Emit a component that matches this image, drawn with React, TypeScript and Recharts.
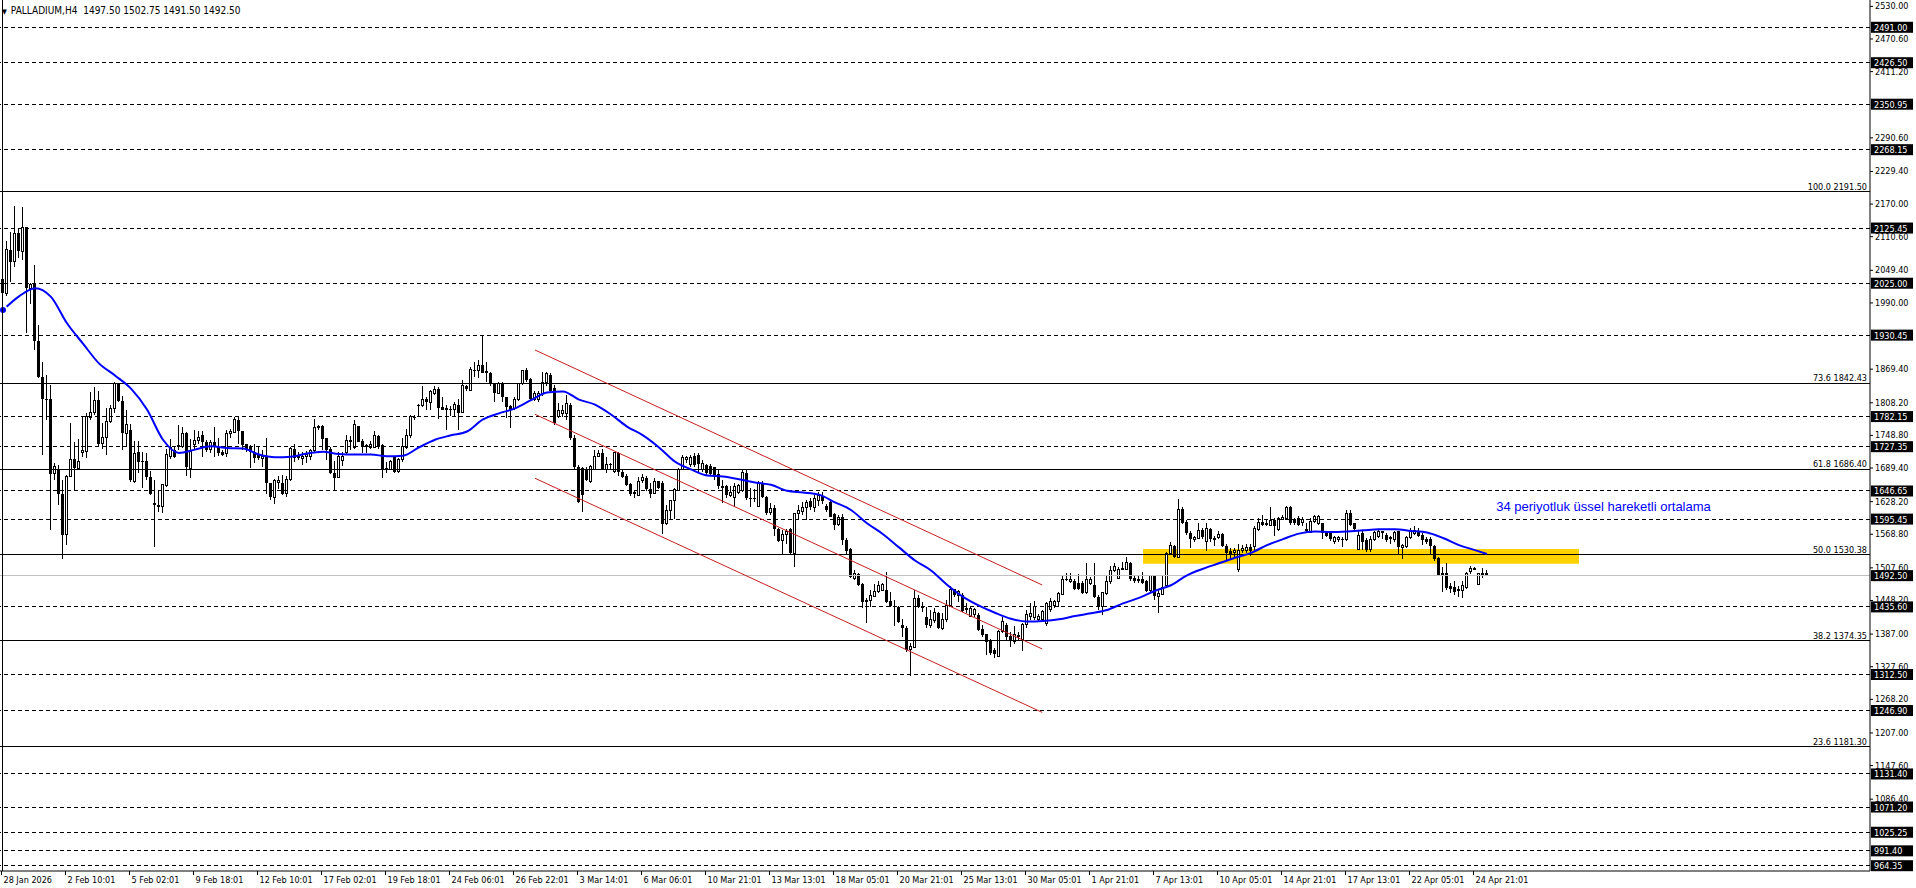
import React from 'react';
import { ComposedChart, Bar, Line, XAxis, YAxis, ReferenceLine, ReferenceArea, ReferenceDot } from 'recharts';

// H4 candles, [open, high, low, close], one per bar from 28 Jan 2026
const candles: number[][] = [
  [2032, 2049, 1988, 2007], [2007, 2101, 2001, 2087], [2086, 2119, 2028, 2064], [2064, 2166, 2055, 2116],
  [2116, 2125, 2070, 2083], [2083, 2163, 2067, 2127], [2127, 2127, 1934, 2016], [2016, 2025, 1988, 2022],
  [2025, 2058, 1903, 1919], [1919, 1949, 1852, 1855], [1855, 1882, 1712, 1815], [1815, 1858, 1776, 1814],
  [1814, 1840, 1576, 1678], [1679, 1697, 1667, 1691], [1686, 1694, 1621, 1641], [1641, 1666, 1522, 1567],
  [1567, 1676, 1548, 1673], [1673, 1770, 1672, 1704], [1704, 1736, 1647, 1688], [1688, 1742, 1686, 1700],
  [1717, 1782, 1709, 1721], [1718, 1788, 1706, 1782], [1781, 1826, 1776, 1789], [1789, 1836, 1785, 1812],
  [1812, 1828, 1726, 1733], [1733, 1770, 1724, 1744], [1744, 1797, 1712, 1773], [1773, 1803, 1770, 1797],
  [1797, 1846, 1788, 1843], [1843, 1844, 1809, 1811], [1811, 1820, 1721, 1752], [1752, 1794, 1727, 1767],
  [1757, 1769, 1663, 1667], [1664, 1738, 1661, 1715], [1718, 1737, 1679, 1700], [1702, 1718, 1652, 1700],
  [1702, 1715, 1667, 1673], [1673, 1683, 1640, 1641], [1624, 1666, 1545, 1621], [1621, 1648, 1609, 1618],
  [1618, 1659, 1606, 1659], [1657, 1724, 1654, 1714], [1709, 1742, 1704, 1726], [1721, 1727, 1706, 1709],
  [1727, 1767, 1721, 1729], [1728, 1764, 1725, 1752], [1753, 1754, 1674, 1691], [1688, 1741, 1671, 1718],
  [1732, 1758, 1721, 1739], [1738, 1755, 1733, 1744], [1749, 1755, 1708, 1735], [1735, 1739, 1718, 1722],
  [1722, 1739, 1715, 1735], [1735, 1763, 1708, 1727], [1727, 1744, 1710, 1716], [1718, 1721, 1710, 1712],
  [1715, 1758, 1709, 1752], [1752, 1759, 1743, 1755], [1753, 1782, 1752, 1776], [1776, 1783, 1733, 1755],
  [1756, 1756, 1721, 1730], [1732, 1733, 1718, 1721], [1727, 1730, 1688, 1718], [1718, 1733, 1697, 1706],
  [1712, 1726, 1703, 1706], [1706, 1721, 1691, 1710], [1710, 1743, 1641, 1662], [1662, 1662, 1631, 1635],
  [1635, 1668, 1623, 1665], [1662, 1674, 1651, 1666], [1662, 1676, 1639, 1642], [1642, 1674, 1636, 1667],
  [1668, 1727, 1664, 1724], [1724, 1733, 1700, 1706], [1712, 1718, 1703, 1706], [1706, 1718, 1694, 1710],
  [1710, 1720, 1697, 1714], [1710, 1724, 1703, 1721], [1721, 1777, 1718, 1763], [1763, 1767, 1758, 1764],
  [1765, 1767, 1721, 1741], [1743, 1744, 1703, 1722], [1724, 1727, 1678, 1680], [1680, 1702, 1648, 1671],
  [1672, 1718, 1670, 1710], [1703, 1718, 1692, 1710], [1716, 1748, 1714, 1738], [1736, 1747, 1721, 1739],
  [1726, 1776, 1724, 1767], [1765, 1765, 1735, 1736], [1738, 1742, 1715, 1727], [1730, 1733, 1716, 1727],
  [1726, 1737, 1724, 1732], [1726, 1755, 1726, 1747], [1747, 1749, 1723, 1727], [1730, 1733, 1670, 1686],
  [1688, 1700, 1680, 1685], [1686, 1703, 1685, 1700], [1708, 1709, 1680, 1682], [1682, 1706, 1679, 1704],
  [1704, 1743, 1700, 1727], [1726, 1759, 1723, 1747], [1747, 1785, 1744, 1782], [1780, 1785, 1776, 1781],
  [1802, 1805, 1781, 1803], [1803, 1838, 1800, 1814], [1814, 1817, 1794, 1808], [1808, 1831, 1794, 1828],
  [1825, 1837, 1822, 1831], [1832, 1836, 1777, 1797], [1800, 1817, 1794, 1795], [1797, 1803, 1757, 1794],
  [1796, 1802, 1783, 1795], [1795, 1808, 1782, 1804], [1804, 1815, 1757, 1789], [1789, 1848, 1788, 1838],
  [1838, 1840, 1828, 1832], [1829, 1873, 1828, 1867], [1867, 1882, 1855, 1866], [1866, 1886, 1852, 1876],
  [1876, 1931, 1861, 1862], [1866, 1882, 1846, 1862], [1862, 1864, 1838, 1842], [1843, 1844, 1808, 1825],
  [1825, 1846, 1823, 1843], [1843, 1846, 1808, 1817], [1817, 1817, 1779, 1800], [1802, 1803, 1761, 1795],
  [1797, 1817, 1795, 1814], [1814, 1844, 1811, 1843], [1842, 1867, 1840, 1866], [1867, 1870, 1846, 1849],
  [1850, 1852, 1812, 1814], [1814, 1828, 1811, 1824], [1814, 1829, 1809, 1825], [1825, 1864, 1820, 1844],
  [1844, 1864, 1838, 1860], [1858, 1862, 1825, 1828], [1834, 1840, 1767, 1770], [1783, 1806, 1779, 1793],
  [1788, 1803, 1782, 1794], [1788, 1821, 1776, 1806], [1803, 1806, 1740, 1743], [1743, 1749, 1685, 1691],
  [1691, 1694, 1624, 1627], [1688, 1691, 1609, 1640], [1686, 1691, 1664, 1667], [1664, 1694, 1661, 1691],
  [1686, 1721, 1685, 1709], [1709, 1722, 1708, 1715], [1715, 1724, 1685, 1686], [1686, 1708, 1679, 1694],
  [1694, 1698, 1685, 1695], [1682, 1718, 1680, 1716], [1716, 1718, 1674, 1682], [1682, 1685, 1670, 1673],
  [1674, 1678, 1655, 1658], [1659, 1661, 1638, 1641], [1645, 1648, 1633, 1641], [1639, 1673, 1638, 1664],
  [1665, 1678, 1662, 1671], [1671, 1674, 1647, 1651], [1651, 1661, 1633, 1642], [1642, 1670, 1641, 1664],
  [1664, 1665, 1650, 1653], [1661, 1664, 1568, 1587], [1587, 1621, 1585, 1612], [1612, 1631, 1594, 1630],
  [1629, 1652, 1595, 1650], [1648, 1688, 1647, 1686], [1686, 1712, 1685, 1708], [1704, 1710, 1697, 1708],
  [1694, 1712, 1691, 1708], [1710, 1716, 1691, 1694], [1712, 1716, 1679, 1696], [1685, 1703, 1682, 1696],
  [1694, 1696, 1676, 1679], [1692, 1696, 1674, 1678], [1690, 1691, 1667, 1674], [1678, 1685, 1651, 1655],
  [1656, 1667, 1624, 1653], [1655, 1658, 1633, 1639], [1638, 1655, 1635, 1644], [1635, 1661, 1618, 1655],
  [1644, 1659, 1641, 1656], [1647, 1684, 1645, 1680], [1680, 1685, 1630, 1633], [1634, 1652, 1618, 1633],
  [1633, 1650, 1627, 1632], [1619, 1664, 1618, 1661], [1661, 1664, 1633, 1636], [1636, 1638, 1603, 1607],
  [1607, 1624, 1603, 1615], [1615, 1621, 1565, 1577], [1577, 1579, 1553, 1556], [1556, 1576, 1530, 1567],
  [1567, 1577, 1551, 1573], [1577, 1579, 1532, 1533], [1533, 1607, 1509, 1606], [1605, 1621, 1595, 1611],
  [1609, 1627, 1603, 1617], [1617, 1630, 1594, 1625], [1629, 1633, 1612, 1617], [1617, 1639, 1609, 1633],
  [1629, 1645, 1619, 1638], [1638, 1644, 1623, 1629], [1619, 1623, 1609, 1612], [1627, 1629, 1599, 1600],
  [1605, 1607, 1576, 1585], [1585, 1603, 1582, 1599], [1599, 1605, 1548, 1558], [1558, 1561, 1530, 1538],
  [1541, 1542, 1488, 1490], [1488, 1503, 1485, 1496], [1496, 1498, 1473, 1476], [1477, 1480, 1433, 1445],
  [1445, 1451, 1407, 1448], [1447, 1466, 1436, 1457], [1455, 1477, 1454, 1463], [1463, 1482, 1460, 1475],
  [1465, 1480, 1464, 1477], [1466, 1500, 1443, 1445], [1447, 1463, 1436, 1437], [1437, 1448, 1400, 1435],
  [1436, 1437, 1406, 1409], [1403, 1413, 1381, 1398], [1398, 1400, 1354, 1357], [1358, 1369, 1309, 1364],
  [1362, 1466, 1360, 1451], [1451, 1457, 1433, 1435], [1436, 1445, 1427, 1435], [1418, 1436, 1397, 1403],
  [1401, 1430, 1397, 1412], [1411, 1433, 1407, 1425], [1425, 1427, 1395, 1398], [1397, 1424, 1394, 1413],
  [1412, 1448, 1409, 1439], [1439, 1473, 1437, 1468], [1468, 1469, 1454, 1457], [1456, 1466, 1445, 1463],
  [1457, 1460, 1427, 1429], [1433, 1442, 1424, 1430], [1419, 1436, 1417, 1433], [1421, 1433, 1417, 1430],
  [1421, 1424, 1391, 1394], [1395, 1403, 1381, 1384], [1386, 1387, 1348, 1371], [1375, 1378, 1348, 1351],
  [1358, 1360, 1342, 1350], [1346, 1394, 1345, 1391], [1391, 1418, 1388, 1409], [1403, 1407, 1375, 1381],
  [1383, 1389, 1363, 1374], [1372, 1400, 1368, 1386], [1384, 1389, 1375, 1381], [1377, 1406, 1356, 1403],
  [1403, 1430, 1398, 1421], [1418, 1442, 1412, 1423], [1416, 1447, 1412, 1436], [1412, 1423, 1409, 1419],
  [1412, 1430, 1409, 1427], [1406, 1445, 1401, 1442], [1430, 1451, 1427, 1445], [1439, 1449, 1433, 1445],
  [1445, 1463, 1436, 1460], [1459, 1491, 1457, 1486], [1485, 1497, 1482, 1486], [1482, 1498, 1479, 1486],
  [1483, 1486, 1466, 1469], [1480, 1496, 1466, 1469], [1480, 1482, 1459, 1460], [1462, 1515, 1459, 1486],
  [1479, 1490, 1476, 1486], [1476, 1515, 1451, 1454], [1454, 1457, 1430, 1436], [1436, 1463, 1421, 1462],
  [1460, 1491, 1457, 1482], [1481, 1510, 1477, 1502], [1502, 1515, 1500, 1510], [1488, 1509, 1486, 1504],
  [1506, 1518, 1502, 1503], [1504, 1526, 1502, 1516], [1516, 1518, 1483, 1486], [1488, 1492, 1480, 1483],
  [1486, 1491, 1480, 1482], [1486, 1500, 1477, 1480], [1482, 1485, 1463, 1465], [1466, 1494, 1463, 1492],
  [1492, 1494, 1449, 1455], [1454, 1468, 1425, 1460], [1459, 1494, 1457, 1471], [1474, 1536, 1471, 1533],
  [1533, 1554, 1530, 1547], [1547, 1548, 1524, 1526], [1526, 1632, 1524, 1613], [1613, 1618, 1587, 1589],
  [1591, 1594, 1567, 1570], [1570, 1573, 1542, 1559], [1558, 1565, 1554, 1562], [1560, 1588, 1559, 1574],
  [1576, 1579, 1559, 1562], [1554, 1588, 1538, 1579], [1577, 1579, 1554, 1559], [1561, 1564, 1547, 1558],
  [1562, 1573, 1559, 1568], [1568, 1570, 1545, 1547], [1547, 1551, 1518, 1534], [1538, 1542, 1521, 1532],
  [1534, 1542, 1527, 1538], [1504, 1551, 1500, 1539], [1539, 1548, 1533, 1542], [1538, 1551, 1533, 1544],
  [1545, 1550, 1528, 1538], [1545, 1582, 1539, 1579], [1577, 1597, 1574, 1589], [1591, 1603, 1582, 1585],
  [1589, 1595, 1582, 1585], [1583, 1617, 1582, 1593], [1594, 1597, 1565, 1582], [1576, 1600, 1573, 1597],
  [1595, 1603, 1593, 1599], [1597, 1619, 1594, 1617], [1617, 1619, 1585, 1588], [1594, 1597, 1585, 1589],
  [1597, 1601, 1582, 1585], [1589, 1600, 1582, 1594], [1577, 1588, 1571, 1573], [1571, 1597, 1570, 1591],
  [1591, 1603, 1588, 1600], [1588, 1603, 1585, 1601], [1588, 1589, 1559, 1571], [1573, 1574, 1562, 1565],
  [1571, 1573, 1556, 1559], [1554, 1565, 1551, 1562], [1558, 1565, 1554, 1562], [1559, 1562, 1545, 1558],
  [1559, 1612, 1556, 1606], [1606, 1612, 1582, 1585], [1588, 1589, 1573, 1577], [1540, 1573, 1539, 1565],
  [1570, 1573, 1539, 1553], [1557, 1561, 1536, 1539], [1540, 1564, 1536, 1559], [1559, 1574, 1556, 1571],
  [1564, 1576, 1561, 1573], [1573, 1574, 1559, 1570], [1567, 1570, 1554, 1558], [1562, 1565, 1551, 1559],
  [1558, 1574, 1554, 1571], [1573, 1574, 1530, 1544], [1544, 1551, 1522, 1548], [1545, 1565, 1542, 1562],
  [1562, 1579, 1559, 1574], [1570, 1583, 1567, 1574], [1574, 1580, 1562, 1565], [1567, 1570, 1548, 1558],
  [1559, 1562, 1551, 1554], [1559, 1562, 1530, 1547], [1547, 1548, 1520, 1522], [1524, 1526, 1492, 1494],
  [1498, 1509, 1463, 1494], [1498, 1515, 1466, 1470], [1474, 1479, 1460, 1468], [1471, 1482, 1457, 1463],
  [1469, 1474, 1454, 1465], [1465, 1482, 1451, 1474], [1471, 1500, 1468, 1497], [1500, 1510, 1496, 1506],
  [1504, 1508, 1502, 1505], [1477, 1498, 1476, 1496], [1498, 1506, 1488, 1494], [1497.5, 1502.75, 1491.5, 1492.5],
];

// 34-period EMA, [bar, value]
const emaPoints: number[][] = [
  [0, 1976], [4, 2001], [8, 2016], [12, 2000], [16, 1952], [20, 1915], [24, 1879], [28, 1857],
  [32, 1833], [36, 1795], [40, 1740], [44, 1716], [48, 1722], [52, 1728], [56, 1725], [60, 1724],
  [64, 1713], [68, 1708], [72, 1709], [76, 1715], [80, 1718], [84, 1714], [88, 1713], [92, 1713],
  [96, 1710], [100, 1711], [104, 1726], [108, 1740], [112, 1748], [116, 1755], [120, 1777], [124, 1788],
  [128, 1797], [132, 1812], [136, 1826], [140, 1828], [144, 1813], [148, 1804], [152, 1786], [156, 1764],
  [160, 1748], [164, 1726], [168, 1700], [172, 1686], [176, 1675], [180, 1673], [184, 1668], [188, 1662],
  [192, 1658], [196, 1647], [200, 1644], [204, 1640], [208, 1626], [212, 1612], [216, 1588], [220, 1568],
  [224, 1544], [228, 1520], [232, 1502], [236, 1476], [240, 1454], [244, 1438], [248, 1425], [252, 1414],
  [256, 1409], [260, 1410], [264, 1413], [268, 1419], [272, 1424], [276, 1430], [280, 1442], [284, 1452],
  [288, 1465], [292, 1475], [296, 1493], [300, 1505], [304, 1515], [308, 1525], [312, 1534], [316, 1548],
  [320, 1559], [324, 1569], [328, 1573], [332, 1572], [336, 1573], [340, 1575], [344, 1577], [348, 1577],
  [352, 1574], [356, 1571], [360, 1561], [364, 1548], [368, 1539], [371, 1532],
];

const timeLabels = [
  '28 Jan 2026', '2 Feb 10:01', '5 Feb 02:01', '9 Feb 18:01', '12 Feb 10:01', '17 Feb 02:01',
  '19 Feb 18:01', '24 Feb 06:01', '26 Feb 22:01', '3 Mar 14:01', '6 Mar 06:01', '10 Mar 21:01',
  '13 Mar 13:01', '18 Mar 05:01', '20 Mar 21:01', '25 Mar 13:01', '30 Mar 05:01', '1 Apr 21:01',
  '7 Apr 13:01', '10 Apr 05:01', '14 Apr 21:01', '17 Apr 13:01', '22 Apr 05:01', '24 Apr 21:01',
];

const scaleTicks = [
  2530.0, 2470.6, 2411.2, 2290.6, 2229.4, 2170.0, 2110.6, 2049.4, 1990.0, 1869.4, 1808.2, 1748.8,
  1689.4, 1628.2, 1568.8, 1507.6, 1448.2, 1387.0, 1327.6, 1268.2, 1207.0, 1147.6, 1086.4,
];

const dashedLevels = [
  2491.0, 2426.5, 2350.95, 2268.15, 2125.45, 2025.0, 1930.45, 1782.15, 1727.35, 1646.65,
  1595.45, 1435.6, 1312.5, 1246.9, 1131.4, 1071.2, 1025.25, 991.4, 964.35,
];

const fibLevels: number[][] = [
  [100.0, 2191.5], [73.6, 1842.43], [61.8, 1686.4], [50.0, 1530.38], [38.2, 1374.35], [23.6, 1181.3],
];

const lastPrice = 1492.5;
const header = ['PALLADIUM,H4', '1497.50 1502.75 1491.50 1492.50'];

// channel lines: [bar1, price1, bar2, price2]
const channelLines: number[][] = [
  [133, 1903.4, 259.8, 1475.5],
  [133, 1786.3, 259.8, 1359.0],
  [133, 1669.8, 259.8, 1243.5],
];

// yellow zone: [bar1, bar2, low, high]
const zone = [285, 394, 1514.3, 1541.1];
const note = { bar: 373.3, price: 1617, text: '34 periyotluk üssel hareketli ortalama' };

const FONT = "Tahoma, 'DejaVu Sans Condensed', 'Liberation Sans', sans-serif";

const emaByBar = new Map(emaPoints.map(([i, v]) => [i, v]));
const data = candles.map(([o, h, l, c], i) => ({ i, o, h, l, c, ema: emaByBar.has(i) ? emaByBar.get(i) : null }));

const boxed = new Set([...dashedLevels, lastPrice]);

function Candle(props: any) {
  const { x, y, width, height, payload } = props;
  if (x == null || !payload) return null;
  const { o, h, l, c } = payload;
  const top = Math.min(y, y + height);
  const span = Math.abs(height);
  const k = h > l ? span / (h - l) : 0;
  const py = (v: number) => top + (h - v) * k;
  const cx = Math.round(x + width / 2 - 0.5) + 0.5;
  const bt = Math.min(py(o), py(c));
  const bb = Math.max(py(o), py(c));
  const up = c >= o;
  return (
    <g shapeRendering="crispEdges">
      <line x1={cx} x2={cx} y1={top} y2={bt} stroke="#000" />
      <line x1={cx} x2={cx} y1={bb} y2={top + span} stroke="#000" />
      {up ? (
        <rect x={cx - 1} y={bt} width={2} height={Math.max(bb - bt, 0.5)} fill="#fff" stroke="#000" />
      ) : (
        <rect x={cx - 1.5} y={bt} width={3} height={Math.max(bb - bt, 1)} fill="#000" />
      )}
    </g>
  );
}

function PriceTick(props: any) {
  const { x, y, payload } = props;
  const v = payload.value;
  const label = v.toFixed(2);
  if (boxed.has(v)) {
    return (
      <g>
        <rect x={x + 1} y={y - 5.5} width={42} height={11} fill="#000" />
        <text x={x + 4} y={y} dy={3.5} fill="#fff" fontSize={9} fontFamily={FONT}>{label}</text>
      </g>
    );
  }
  return (
    <g>
      <line x1={x} x2={x + 3} y1={y + 0.5} y2={y + 0.5} stroke="#000" />
      <text x={x + 5} y={y} dy={3.5} fill="#000" fontSize={9} fontFamily={FONT}>{label}</text>
    </g>
  );
}

function TimeTick(props: any) {
  const { x, y, index } = props;
  return (
    <text x={x + 2} y={y} dy={7} fill="#000" fontSize={9} fontFamily={FONT}>{timeLabels[index]}</text>
  );
}

const timeTicks = timeLabels.map((_, k) => 16 * k - 0.375);

export default function App() {
  return (
    <div style={{ position: 'absolute', left: 0, top: 0, width: 1916, height: 888, background: '#fff' }}>
      <ComposedChart width={1916} height={888} data={data} margin={{ top: 0, right: 0, bottom: 0, left: 0 }}>
        <ReferenceArea x1={zone[0]} x2={zone[1]} y1={zone[2]} y2={zone[3]} fill="#ffd200" fillOpacity={1} stroke="none" />
        <XAxis
          dataKey="i"
          type="number"
          domain={[-0.75, 466.75]}
          allowDataOverflow
          ticks={timeTicks}
          interval={0}
          height={17}
          tickSize={4}
          tickMargin={1}
          axisLine={{ stroke: '#000' }}
          tickLine={{ stroke: '#000' }}
          tick={<TimeTick />}
        />
        <YAxis
          orientation="right"
          type="number"
          domain={[954.7, 2540.7]}
          allowDataOverflow
          width={46}
          ticks={[...scaleTicks, ...dashedLevels, lastPrice]}
          interval={0}
          tickSize={0}
          tickMargin={0}
          tickLine={false}
          axisLine={{ stroke: '#000' }}
          tick={<PriceTick />}
        />
        {dashedLevels.map((v) => (
          <ReferenceLine key={`d${v}`} y={v} stroke="#000" strokeDasharray="4 3" shapeRendering="crispEdges" />
        ))}
        <ReferenceLine y={lastPrice} stroke="#c0c0c0" shapeRendering="crispEdges" />
        {fibLevels.map(([pct, v]) => (
          <ReferenceLine
            key={`f${v}`}
            y={v}
            stroke="#000"
            shapeRendering="crispEdges"
            label={(p: any) => (
              <text
                x={p.viewBox.x + p.viewBox.width - 3}
                y={p.viewBox.y - 2}
                textAnchor="end"
                fill="#000"
                fontSize={9}
                fontFamily={FONT}
              >
                {`${pct.toFixed(1)} ${v.toFixed(2)}`}
              </text>
            )}
          />
        ))}
        {channelLines.map(([x1, y1, x2, y2], k) => (
          <ReferenceLine
            key={`c${k}`}
            segment={[{ x: x1, y: y1 }, { x: x2, y: y2 }]}
            stroke="#c81e1e"
            strokeWidth={1}
          />
        ))}
        <Bar dataKey={(d: any) => [d.l, d.h]} barSize={3} shape={<Candle />} isAnimationActive={false} />
        <Line
          dataKey="ema"
          type="monotone"
          stroke="#0000ff"
          strokeWidth={2}
          dot={false}
          connectNulls
          isAnimationActive={false}
        />
        <ReferenceDot
          x={note.bar}
          y={note.price}
          r={0}
          fill="none"
          stroke="none"
          label={(p: any) => (
            <text x={p.viewBox.x} y={p.viewBox.y} dy={4} fill="#0000ff" fontSize={13} fontFamily="'Liberation Sans', Arial, sans-serif">
              {note.text}
            </text>
          )}
        />
      </ComposedChart>
      <div
        style={{
          position: 'absolute',
          left: 2,
          top: 4,
          fontFamily: FONT,
          fontSize: 10,
          color: '#000',
          whiteSpace: 'pre',
          lineHeight: '14px',
        }}
      >
        <span style={{ fontSize: 7, marginRight: 4 }}>▼</span>
        {header[0]}  {header[1]}
      </div>
      <div style={{ position: 'absolute', left: 2, top: 0, width: 1, height: 871, background: '#000' }} />
    </div>
  );
}
